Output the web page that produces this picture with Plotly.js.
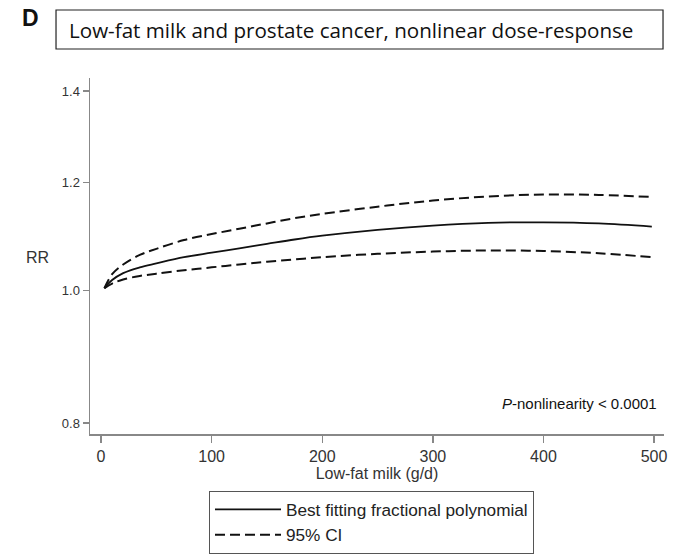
<!DOCTYPE html>
<html>
<head>
<meta charset="utf-8">
<script src="https://cdn.plot.ly/plotly-3.0.1.min.js"></script>
<style>html,body{margin:0;padding:0;background:#fff;}#chart{width:675px;height:558px;}</style>
</head>
<body>
<div id="chart"></div>
<script>
// Low-fat milk intake (g/d)
const milk = [3, 10, 20, 35, 50, 75, 100, 125, 150, 175, 200, 250, 300, 350, 400, 450, 498];
// Best fitting fractional polynomial (RR)
const rrFit = [1.004, 1.018, 1.030, 1.040, 1.047, 1.058, 1.066, 1.074, 1.082, 1.090, 1.097, 1.108, 1.116, 1.121, 1.122, 1.120, 1.114];
// 95% CI upper
const rrUpper = [1.004, 1.028, 1.045, 1.062, 1.073, 1.089, 1.100, 1.110, 1.120, 1.130, 1.138, 1.152, 1.164, 1.172, 1.176, 1.175, 1.171];
// 95% CI lower
const rrLower = [1.004, 1.012, 1.019, 1.025, 1.029, 1.035, 1.040, 1.045, 1.050, 1.054, 1.058, 1.064, 1.068, 1.070, 1.069, 1.065, 1.058];

const xTicks = [0, 100, 200, 300, 400, 500];
const yTicks = [0.8, 1.0, 1.2, 1.4];
const yTickText = ["0.8", "1.0", "1.2", "1.4"];

const traces = [
  {x: milk, y: rrFit, mode: 'lines', name: 'Best fitting fractional polynomial',
   line: {color: '#111', width: 1.8, shape: 'spline'}},
  {x: milk, y: rrUpper, mode: 'lines', name: '95% CI',
   line: {color: '#111', width: 2, dash: '10px,5px', shape: 'spline'}},
  {x: milk, y: rrLower, mode: 'lines', name: '95% CI', showlegend: false,
   line: {color: '#111', width: 2, dash: '10px,5px', shape: 'spline'}}
];

const layout = {
  width: 675, height: 558,
  margin: {l: 90, r: 11, t: 78, b: 124, autoexpand: false},
  paper_bgcolor: '#fff', plot_bgcolor: '#fff',
  font: {family: '"Liberation Sans", Arial, sans-serif', color: '#333'},
  showlegend: true,
  legend: {x: 0.2073, y: -0.159, xanchor: 'left', yanchor: 'top',
           bordercolor: '#555', borderwidth: 1, bgcolor: '#fff',
           font: {size: 17.2, color: '#222'}, itemwidth: 66, tracegroupgap: 0},
  xaxis: {range: [-10, 509], tickvals: xTicks, ticks: 'outside', ticklen: 7,
          tickcolor: '#888', tickwidth: 1.5, showline: true, linecolor: '#888', linewidth: 1.5,
          showgrid: false, zeroline: false, tickfont: {size: 16, color: '#333'}, automargin: false,
          title: {text: 'Low-fat milk (g/d)', font: {size: 16, color: '#333'}, standoff: 2}},
  yaxis: {type: 'log', range: [-0.1050, 0.1557], tickvals: yTicks, ticktext: yTickText,
          ticks: 'outside', ticklen: 6, tickcolor: '#888', tickwidth: 1.5, automargin: false,
          showline: true, linecolor: '#888', linewidth: 1.5, showgrid: false, zeroline: false,
          tickfont: {size: 13, color: '#333'}},
  shapes: [
    {type: 'rect', xref: 'paper', yref: 'paper', x0: -0.0592, x1: 0.9983, y0: 1.0815, y1: 1.1910,
     line: {color: '#222', width: 1.2}, fillcolor: 'rgba(0,0,0,0)'}
  ],
  annotations: [
    {text: 'Low-fat milk and prostate cancer, nonlinear dose-response', xref: 'paper', yref: 'paper',
     x: -0.0395, y: 1.136, xanchor: 'left', yanchor: 'middle', showarrow: false,
     font: {family: '"Open Sans", sans-serif', size: 20.6, color: '#111'}},
    {text: '<b>D</b>', xref: 'paper', yref: 'paper', x: -0.1045, y: 1.169, xanchor: 'center', yanchor: 'middle',
     showarrow: false, font: {size: 23, color: '#111'}},
    {text: 'RR', xref: 'paper', yref: 'paper', x: -0.0915, y: 0.497, xanchor: 'center', yanchor: 'middle',
     showarrow: false, font: {size: 16, color: '#333'}},
    {text: '<i>P</i>-nonlinearity &lt; 0.0001', xref: 'paper', yref: 'paper', x: 0.992, y: 0.087,
     xanchor: 'right', yanchor: 'middle', showarrow: false, font: {size: 15, color: '#111'}}
  ]
};

Plotly.newPlot('chart', traces, layout, {displayModeBar: false, staticPlot: true});
</script>
</body>
</html>
